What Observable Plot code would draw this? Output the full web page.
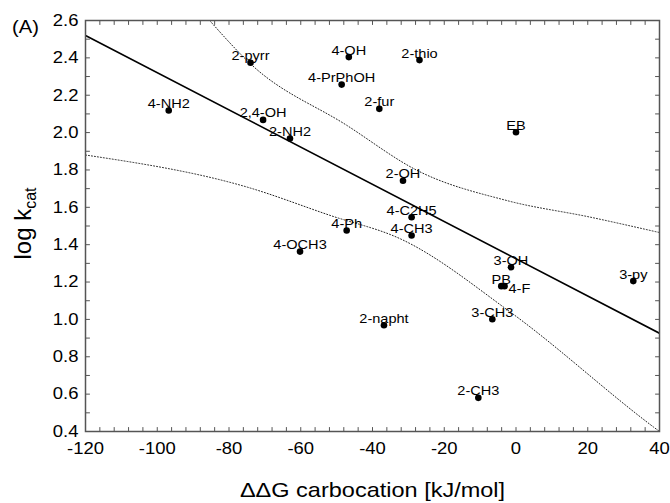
<!DOCTYPE html>
<html><head><meta charset="utf-8">
<script src="https://cdn.jsdelivr.net/npm/d3@7"></script>
<script src="https://cdn.jsdelivr.net/npm/@observablehq/plot@0.6"></script>
<style>body{margin:0;background:#fff}</style>
</head><body><div id="chart"></div>
<script>
// compound labels and values
const labels = ["4-NH2","2-pyrr","2,4-OH","2-NH2","4-PrPhOH","4-OH","2-thio","2-fur","EB","2-OH","4-C2H5","4-CH3","4-Ph","4-OCH3","3-OH","PB","4-F","3-py","2-napht","3-CH3","2-CH3"];
const dG   = [-96.8,-74.0,-70.5,-63.0,-48.6,-46.6,-26.9,-38.1,0.0,-31.5,-29.1,-29.1,-47.2,-60.2,-1.4,-4.1,-3.2,32.7,-36.8,-6.6,-10.5];
const logk = [2.118,2.374,2.068,1.968,2.257,2.404,2.388,2.127,2.002,1.742,1.547,1.449,1.476,1.363,1.279,1.178,1.178,1.205,0.969,1.001,0.580];

// regression line end points
const fitX = [-120, 40];
const fitY = [2.52, 0.926];

// dotted confidence band points
const upperX = [-85.4, -74.0, -47.1, -27.5, -2.5, 20.8, 40];
const upperY = [2.600, 2.368, 2.038, 1.797, 1.636, 1.547, 1.465];
const lowerX = [-120, -74.9, -51.7, -32.2, -1.5, 38.4, 40];
const lowerY = [1.880, 1.708, 1.556, 1.431, 1.038, 0.423, 0.400];

// ticks
const xTicks = [-120,-100,-80,-60,-40,-20,0,20,40];
const yTicks = [0.4,0.6,0.8,1.0,1.2,1.4,1.6,1.8,2.0,2.2,2.4,2.6];
const xMinorTicks = d3.range(-120, 40.001, 4);
const yMinorTicks = d3.range(4, 26.001, 1).map(d => d / 10);

const xTitle = "ΔΔG carbocation [kJ/mol]";
const yTitleMain = "log k";
const yTitleSub = "cat";
const panelLabel = "(A)";

const points = labels.map((label, i) => ({label, x: dG[i], y: logk[i]}));
const fit = fitX.map((x, i) => ({x, y: fitY[i]}));
const upper = upperX.map((x, i) => ({x, y: upperY[i]}));
const lower = lowerX.map((x, i) => ({x, y: lowerY[i]}));

const tickShape = {draw(ctx, l) { ctx.moveTo(0, 0); ctx.lineTo(0, -l); }};
const frameColor = "#555";
const tickMarks = (data, channel, anchor, rotate) =>
  Plot.vector(data, {[channel]: d => d, frameAnchor: anchor, length: 4, rotate, anchor: "start",
    shape: tickShape, stroke: frameColor, strokeWidth: 1});

const chart = Plot.plot({
  width: 670, height: 503,
  marginLeft: 85, marginRight: 11, marginTop: 20, marginBottom: 72,
  x: {domain: [-120, 40]},
  y: {domain: [0.4, 2.6]},
  style: {fontFamily: "'Liberation Sans', Arial, sans-serif", background: "#fff", color: "#000"},
  marks: [
    Plot.line(upper, {x: "x", y: "y", curve: "monotone-x", stroke: "#222", strokeWidth: 1, strokeDasharray: "1,2", clip: true}),
    Plot.line(lower, {x: "x", y: "y", curve: "monotone-x", stroke: "#222", strokeWidth: 1, strokeDasharray: "1,2", clip: true}),
    Plot.line(fit, {x: "x", y: "y", stroke: "#000", strokeWidth: 1.6, clip: true}),
    Plot.dot(points, {x: "x", y: "y", r: 3.3, fill: "#000"}),
    Plot.text(points.filter(d => d.label !== "4-F"), {x: "x", y: "y", text: "label", lineAnchor: "bottom", dy: -2.5, fontSize: 13, fill: "#000"}),
    Plot.text(points.filter(d => d.label === "4-F"), {x: "x", y: "y", text: "label", textAnchor: "start", dx: 4, dy: 2.5, fontSize: 13, fill: "#000"}),
    Plot.frame({stroke: frameColor, strokeWidth: 1.5}),
    tickMarks(xMinorTicks, "x", "bottom", 0),
    tickMarks(xMinorTicks, "x", "top", 180),
    tickMarks(yMinorTicks, "y", "left", 90),
    tickMarks(yMinorTicks, "y", "right", -90),
    Plot.axisX(xTicks, {tickSize: 0, tickPadding: 11, tickFormat: d => String(d), fontSize: 16.5, label: null}),
    Plot.axisY(yTicks, {tickSize: 0, tickPadding: 7, tickFormat: d => d.toFixed(1), fontSize: 16.5, label: null}),
    Plot.text([xTitle], {frameAnchor: "bottom", dy: 65, lineAnchor: "bottom", fontSize: 21, fill: "#000"})
  ]
});

const svg = d3.select(chart);
svg.append("text")
  .attr("x", 12).attr("y", 33)
  .attr("text-anchor", "start")
  .attr("font-size", 18).attr("fill", "#000")
  .text(panelLabel);

const yt = svg.append("text")
  .attr("class", "nostretch")
  .attr("transform", "translate(31,223.5) rotate(-90)")
  .attr("text-anchor", "middle")
  .attr("font-size", 24).attr("fill", "#000");
yt.append("tspan").text(yTitleMain);
yt.append("tspan").attr("font-size", 16).attr("dy", "0.3em").text(yTitleSub);

// the reference's text is horizontally widened; mimic it around each text anchor
svg.selectAll("text").each(function() {
  if (this.classList.contains("nostretch")) return;
  const ax = +this.getAttribute("x") || 0;
  const t = this.getAttribute("transform") || "";
  this.setAttribute("transform", `${t} translate(${ax},0) scale(1.12,1) translate(${-ax},0)`);
});

document.getElementById("chart").appendChild(chart);
</script>
</body></html>
